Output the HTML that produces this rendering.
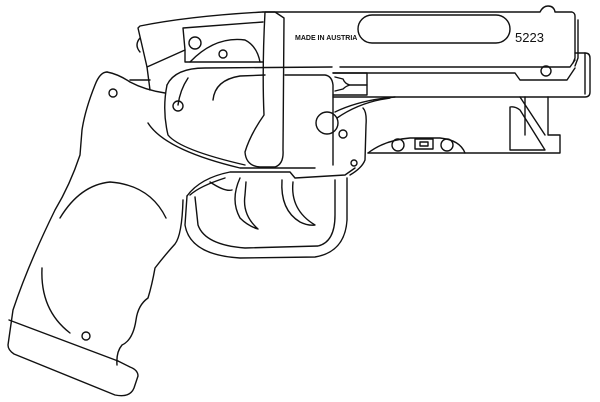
<!DOCTYPE html>
<html><head><meta charset="utf-8"><style>
html,body{margin:0;padding:0;background:#fff;width:600px;height:402px;overflow:hidden}
svg{display:block}
</style></head><body>
<svg width="600" height="402" viewBox="0 0 600 402" xmlns="http://www.w3.org/2000/svg" fill="none" stroke="#111" stroke-width="1.4" stroke-linejoin="round" stroke-linecap="round">
<!-- slide -->
<path d="M263 12 L540 12 Q543 6 548 6 Q554 6 555 12 L572 12 Q575 13 575 16 L575 58 L573 63"/>
<path d="M578 20 L578 58 L575 66"/>
<path d="M340 67 L570 67 L575 60"/>
<path d="M333 73 L515 73 L520 80 L567 80 L575 68"/>
<circle cx="546" cy="71" r="5"/>
<path d="M575 53 L585 53 Q590 53 590 58 L590 92 Q590 97 585 97 L333 97"/>
<path d="M585 53 L585 94"/>
<rect x="358" y="15" width="152" height="28" rx="14"/>
<text x="295" y="40" font-family="Liberation Sans, sans-serif" font-size="7" font-weight="bold" fill="#111" stroke="none">MADE IN AUSTRIA</text>
<text x="515" y="42" font-family="Liberation Sans, sans-serif" font-size="13" fill="#111" stroke="none">5223</text>
<!-- notch -->
<path d="M333 73 L367 73 L367 95 L333 95"/>
<path d="M335 77 L343 79 Q345 84 350 85 L367 85 M335 91 L343 89 Q346 86 350 85"/>
<!-- rear block -->
<path d="M263 12 Q190 16 140 26 L138 28 L147 67 L150 90"/>
<path d="M140 38 Q134 45 140 52"/>
<path d="M147 67 L185 50 L183 28 L263 22"/>
<path d="M185 50 L185 62 L263 62"/>
<path d="M190 62 Q215 36 245 40 Q257 46 260 62"/>
<circle cx="195" cy="43" r="6"/>
<circle cx="223" cy="54" r="4"/>
<!-- frame bulge -->
<path d="M167 85 Q175 68 205 68 L332 67"/>
<path d="M285 75 L325 75 Q332 76 333 85 L333 165"/>
<path d="M167 85 Q162 110 168 135 Q180 150 245 165"/>
<path d="M188 78 Q180 90 178 105 M213 100 Q215 80 240 76 L265 75"/>
<circle cx="178" cy="106" r="5"/>
<path d="M150 80 L130 80"/>
<path d="M148 123 Q165 150 240 168 L315 168"/>
<!-- strap -->
<path d="M265 12 Q262 70 264 115 Q250 135 245 152 Q246 166 260 167 L275 167 Q284 164 283 150 L284 18 L275 12 Z"/>
<!-- knob & small circles -->
<circle cx="327" cy="123" r="11"/>
<circle cx="343" cy="134" r="4"/>
<circle cx="354" cy="163" r="3"/>
<path d="M337 118 Q360 102 390 98"/>
<path d="M335 112 Q360 100 395 97"/>
<path d="M363 108 Q367 112 366 125 L365 160 Q362 168 350 175"/>
<!-- lower frame -->
<path d="M368 153 L560 153 L560 135 L548 135 L548 97"/>
<path d="M525 97 L525 135"/>
<path d="M520 97 L545 135"/>
<path d="M510 107 L510 150 L545 150 L520 110 Q515 106 510 107 Z"/>
<path d="M368 153 Q385 140 410 138 L440 138 Q460 140 465 153"/>
<circle cx="398" cy="145" r="6"/>
<circle cx="447" cy="145" r="6"/>
<rect x="415" y="139" width="18" height="10"/>
<rect x="420" y="142" width="8" height="4"/>
<!-- trigger guard -->
<path d="M187 196 Q200 178 230 172 L290 172 L295 178 L345 175 L355 168"/>
<path d="M190 195 Q200 186 225 178"/>
<path d="M187 196 L185 225 Q190 255 240 258 L315 257 Q345 252 347 220 L347 178"/>
<path d="M195 197 L198 225 Q205 245 245 248 L318 246 Q335 242 335 215 L335 180"/>
<path d="M210 182 Q225 192 232 190"/>
<path d="M240 178 Q230 200 240 218 Q248 226 258 229 Q242 215 245 195 L246 182"/>
<path d="M282 180 Q280 210 300 222 Q308 226 315 225 Q290 210 293 182"/>
<!-- grip -->
<path d="M107 72 Q100 72 95 85 Q85 110 82 130 L80 155 Q70 185 55 210 Q28 265 13 310 L8 345 Q8 350 14 354 L115 395 Q130 398 134 388 L138 376 Q138 370 130 367 L118 361"/>
<path d="M9 320 L118 361"/>
<path d="M107 72 Q118 74 130 82 Q145 90 165 93"/>
<path d="M183 200 Q182 235 175 244 Q165 255 155 268 Q152 285 148 298 Q138 305 136 320 Q133 340 122 345 Q116 352 117 365"/>
<circle cx="113" cy="93" r="4"/>
<circle cx="86" cy="336" r="4"/>
<path d="M60 218 Q80 185 110 182 Q150 185 166 218"/>
<path d="M42 268 Q40 310 70 333"/>
</svg>
</body></html>
